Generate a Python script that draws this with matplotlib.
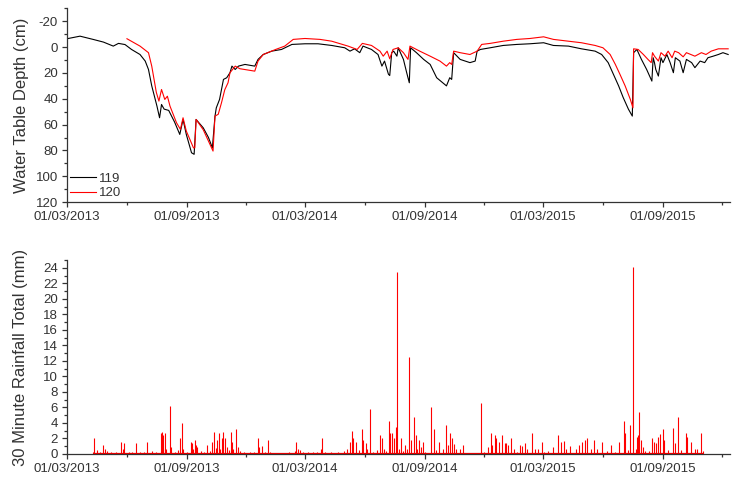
import numpy as np
import pandas as pd
import matplotlib
matplotlib.use("Agg")
import matplotlib.pyplot as plt
import matplotlib.dates as mdates
from matplotlib.ticker import MultipleLocator

plt.rcParams["font.family"] = ["Liberation Sans", "DejaVu Sans"]
plt.rcParams["axes.unicode_minus"] = False

START = pd.Timestamp("2013-03-01")

# water table depth (cm below surface), keyed by days since 01/03/2013
wt119_days = [0, 20, 40, 56, 71, 79, 89, 99, 112, 120, 125, 130, 138, 142, 145, 149,
              156, 165, 173, 178, 183, 191, 195, 198, 209, 217, 223, 227, 229, 234, 240,
              245, 250, 253, 258, 263, 273, 288, 293, 301, 314, 329, 345, 365, 385, 406,
              426, 434, 441, 449, 454, 467, 477, 483, 487, 493, 495, 498, 501, 506, 508,
              516, 521, 525, 527, 536, 547, 557, 567, 582, 587, 590, 593, 603, 618, 626,
              629, 634, 649, 669, 690, 710, 731, 746, 769, 789, 810, 820, 830, 838, 846,
              853, 861, 867, 869, 874, 881, 889, 897, 899, 901, 903, 907, 911, 914, 920,
              925, 930, 933, 940, 945, 950, 958, 963, 971, 978, 983, 991, 999, 1006, 1014]
wt119_cm = [-6.5, -8.5, -6, -3.9, -0.8, -2.9, -2, 1.8, 5.7, 10.8, 17.3, 30, 45.7, 54.7, 44.4, 48,
            49, 58, 67.6, 56, 67.6, 81.8, 83, 56, 62.5, 70, 78, 53.4, 47, 40.5, 25,
            23.7, 19.8, 14.7, 17.3, 14.7, 13.4, 14.7, 9.5, 5.7, 3.1, 1.8, -2.1, -2.6, -2.6, -1.3,
            0.5, 3.1, 1.3, 4.3, -0.8, 1.8, 5.7, 14.7, 10.8, 21, 22, 4.3, 3.1, 7, 0.5,
            9.5, 19.8, 27.6, 0.5, 4.3, 9.5, 13.4, 23.7, 30, 23.7, 25, 4.3, 9.5, 12, 10.8,
            3.1, 1.8, 0.5, -1.3, -2.1, -2.6, -3.4, -1.3, -0.8, 1.3, 3.1, 5.7, 12, 21, 30,
            39, 48, 53.4, 4.3, 1.8, 9.5, 17.3, 26.3, 8.2, 12, 17.3, 22.4, 8.2, 12, 5.7,
            12, 19.8, 8.2, 10.8, 19.8, 9.5, 12, 15.9, 10.8, 12, 8.2, 7, 5.7, 4.3, 5.7]

wt120_days = [92, 112, 125, 130, 137, 141, 145, 150, 154, 158, 168, 174, 178, 183, 194, 196,
              198, 209, 217, 224, 227, 232, 237, 242, 247, 250, 258, 265, 288, 293, 301, 320,
              334, 347, 365, 388, 406, 431, 445, 453, 467, 480, 485, 491, 495, 500, 508, 516,
              523, 526, 541, 557, 572, 582, 587, 590, 593, 603, 618, 629, 636, 649, 669, 690,
              710, 731, 746, 769, 789, 810, 822, 833, 841, 848, 856, 864, 868, 869, 876, 884,
              891, 896, 898, 901, 907, 911, 917, 922, 928, 932, 938, 945, 950, 963, 973, 980,
              988, 999, 1014]
wt120_cm = [-6.5, -0.8, 4.3, 14.7, 35, 41.8, 32.8, 40.5, 38, 45.7, 58.6, 63.7, 54.7, 65, 78, 78,
            56, 64, 72.8, 80.5, 53.4, 52, 43, 33, 27.6, 19.8, 14.7, 16.7, 18.6, 10.8, 5.7, 1.8,
            -0.8, -6, -6.7, -6, -4.6, -0.8, 1.8, -2.9, -1.3, 3.1, 7, 3.1, 9, 1.8, 0.5, 4.3,
            9.5, -0.8, 3.1, 7, 10.8, 14.7, 12, 13.4, 3.1, 4.3, 5.7, 3.1, -2.1, -2.9, -4.6, -6,
            -6.7, -8, -6, -4.6, -3.4, -1.3, 0.5, 5.7, 13.4, 21, 30, 40.5, 47, 1.3, 1.8, 5.7,
            9.5, 12, 4.3, 7, 10.8, 4.3, 7, 3.1, 8.2, 3.1, 4.3, 7.5, 4.3, 7, 4.3, 5.7,
            3.1, 1.3, 1.3]

# 30 minute rainfall totals (mm)
rain_days = [40, 42, 46, 50, 55, 58, 62, 68, 75, 83, 86, 88, 95, 100, 106, 112, 118, 123,
             130, 136, 143.6, 145, 147, 148, 150, 152, 157.5, 159, 165, 170, 173, 176, 178,
             184, 190, 192, 194, 196, 198, 200, 205, 210, 214, 219, 223, 226, 228, 230,
             232.5, 235, 237, 240, 242, 245, 248, 251, 253, 255, 258.7, 262, 266, 272, 280,
             287, 292.5, 295, 299, 304, 308, 312, 325, 340, 349, 351, 354, 358, 362, 370,
             378, 384, 389, 391, 395, 405, 415, 425, 430, 434, 437, 439, 444, 448, 452, 454,
             458, 460, 464, 470, 476, 480, 483, 486, 490, 494, 496, 499, 502, 505, 506.6,
             509, 512, 516, 518, 521, 524.5, 527, 532, 535, 537, 540, 543, 546, 549, 558,
             563, 566, 571, 576, 581, 585, 588, 591, 594, 597, 602, 607, 612, 634.5, 640,
             645, 650, 652, 656, 658, 662, 667, 671, 674, 677, 681, 685, 690, 695, 698, 702,
             706, 713, 718, 722, 728, 732, 738, 746, 753.5, 758, 762, 765, 772, 780, 786,
             790, 794, 797, 803, 809, 813, 820, 828, 835, 840, 847, 854, 856, 861, 864,
             868.6, 872, 874, 876, 878, 880, 883, 887, 893, 897, 900, 903, 906, 910, 914,
             916, 922, 930, 933, 937.6, 942, 949, 951, 957, 963, 966, 972, 975]
rain_mm = [0.3, 2.0, 0.5, 0.3, 1.2, 0.7, 0.4, 0.3, 0.2, 1.6, 0.6, 1.4, 0.3, 0.2, 1.4, 0.3, 0.2, 1.6,
           0.4, 0.3, 2.7, 2.8, 0.6, 2.4, 2.7, 0.7, 6.2, 0.9, 0.3, 0.5, 2.0, 4.0, 0.6,
           0.3, 1.6, 1.4, 0.6, 1.8, 1.2, 0.9, 0.4, 0.3, 1.2, 0.4, 1.6, 2.8, 0.8, 1.8,
           2.7, 0.6, 2.0, 2.8, 2.0, 0.9, 0.5, 2.8, 1.6, 0.6, 3.2, 0.9, 0.4, 0.3, 0.2,
           0.3, 2.0, 0.9, 1.0, 0.3, 1.8, 0.2, 0.1, 0.2, 0.4, 1.6, 0.7, 0.5, 0.3, 0.2,
           0.2, 0.3, 0.7, 2.0, 0.3, 0.2, 0.3, 0.4, 0.7, 1.6, 3.0, 2.0, 1.6, 0.5, 3.2, 1.8,
           1.4, 0.6, 5.8, 0.3, 0.5, 2.4, 2.0, 0.7, 0.4, 4.2, 2.7, 2.7, 2.0, 3.5, 23.4,
           0.6, 2.1, 0.4, 1.2, 0.7, 12.5, 1.8, 4.8, 2.4, 0.7, 1.8, 0.9, 1.5, 0.3, 6.0,
           3.2, 0.5, 1.5, 0.7, 3.8, 1.2, 2.7, 2.0, 1.3, 0.6, 0.6, 1.2, 0.1, 6.6, 0.2,
           0.9, 2.7, 1.2, 2.4, 2.0, 1.5, 2.4, 1.4, 1.4, 1.2, 2.0, 0.7, 0.3, 1.2, 1.0, 1.4,
           0.6, 2.7, 0.7, 0.6, 1.6, 0.3, 0.4, 0.9, 2.4, 1.5, 1.7, 0.7, 1.0, 0.7, 1.2,
           1.6, 1.8, 2.1, 0.7, 1.8, 0.7, 1.6, 0.4, 1.2, 0.3, 1.5, 4.2, 2.7, 0.5, 3.8,
           24.1, 0.6, 2.2, 2.4, 5.4, 1.8, 0.9, 0.4, 0.4, 2.0, 1.5, 1.4, 2.2, 2.6, 3.2,
           1.8, 0.5, 3.4, 1.4, 4.8, 0.5, 2.7, 2.2, 1.5, 0.7, 0.7, 2.7, 0.4]


def to_dates(days):
    return START + pd.to_timedelta(np.array(days, dtype=float), unit="D")


TXT = "#333333"
AX = "#333333"


def style_axis(ax):
    for side in ("top", "right"):
        ax.spines[side].set_visible(False)
    for side in ("left", "bottom"):
        ax.spines[side].set_color(AX)
        ax.spines[side].set_linewidth(0.9)
    ax.tick_params(which="both", direction="out", colors=AX, labelcolor=TXT,
                   labelsize=9.5, width=0.9)
    ax.tick_params(which="major", length=3.5, pad=3)
    ax.tick_params(which="minor", length=2)
    ax.xaxis.set_major_locator(mdates.MonthLocator(bymonth=[3, 9]))
    ax.xaxis.set_minor_locator(mdates.MonthLocator(bymonth=[6, 12]))
    ax.xaxis.set_major_formatter(mdates.DateFormatter("%d/%m/%Y"))
    ax.set_xlim(START, pd.Timestamp("2015-12-13"))


fig = plt.figure(figsize=(7.36, 4.8), dpi=100)
ax1 = fig.add_axes([0.091, 0.579, 0.901, 0.4035])
ax2 = fig.add_axes([0.091, 0.0542, 0.901, 0.404])

# upper panel: water table depth
ax1.plot(to_dates(wt119_days), wt119_cm, color="black", lw=0.8, label="119")
ax1.plot(to_dates(wt120_days), wt120_cm, color="red", lw=0.8, label="120")
style_axis(ax1)
ax1.set_ylim(120, -30)
ax1.yaxis.set_major_locator(MultipleLocator(20))
ax1.yaxis.set_minor_locator(MultipleLocator(10))
ax1.set_ylabel("Water Table Depth (cm)", fontsize=12, color=TXT)
ax1.yaxis.set_label_coords(-0.058, 0.5)
ax1.legend(loc="lower left", frameon=False, fontsize=9.5, handlelength=2.0,
           handletextpad=0.2, labelspacing=0.2, borderaxespad=0.0, borderpad=0.2,
           bbox_to_anchor=(0.0, 0.0), labelcolor=TXT)

# lower panel: rainfall
rd = to_dates(rain_days)
ax2.hlines(0, rd[0], rd[-1], color="#e00000", lw=1.6, zorder=3)
ax2.vlines(rd, 0, rain_mm, color="red", lw=0.8, zorder=2)
style_axis(ax2)
ax2.set_ylim(0, 25)
ax2.yaxis.set_major_locator(MultipleLocator(2))
ax2.yaxis.set_minor_locator(MultipleLocator(1))
ax2.set_ylabel("30 Minute Rainfall Total (mm)", fontsize=12, color=TXT)
ax2.yaxis.set_label_coords(-0.059, 0.5)

fig.savefig("out.png", dpi=100)
